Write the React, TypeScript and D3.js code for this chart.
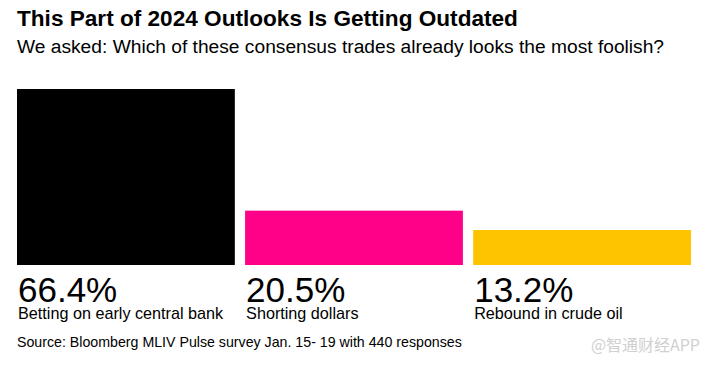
import React from "react";
import * as d3 from "d3";

const categories = ["Betting on early central bank", "Shorting dollars", "Rebound in crude oil"];
const values = [66.4, 20.5, 13.2];
const labels = ["66.4%", "20.5%", "13.2%"];
const colors = ["#000000", "#ff0089", "#ffc400"];

const W = 710;
const H = 366;
const FONT = "'Liberation Sans', Arial, Helvetica, sans-serif";

export default function App() {
  const x = d3.scaleBand<string>().domain(categories).range([17, 691]).paddingInner(0.045).paddingOuter(0);
  const y = d3.scaleLinear().domain([0, 66.4]).range([265, 89]);
  return (
    <svg width={W} height={H} style={{ position: "absolute", left: 0, top: 0, background: "#fff" }} fontFamily={FONT}>
      <rect x={0} y={0} width={W} height={H} fill="#fff" />
      <text x={17} y={26} fontSize={22.6} fontWeight={700} fill="#000">This Part of 2024 Outlooks Is Getting Outdated</text>
      <text x={17} y={53} fontSize={19.2} fill="#000">We asked: Which of these consensus trades already looks the most foolish?</text>
      {categories.map((c, i) => (
        <g key={c}>
          <rect x={x(c)} y={y(values[i])} width={x.bandwidth()} height={y(0) - y(values[i])} fill={colors[i]} />
          <text x={(x(c) as number) + 1} y={302} fontSize={35} fill="#000">{labels[i]}</text>
          <text x={(x(c) as number) + 1} y={319} fontSize={16.2} fill="#000">{c}</text>
        </g>
      ))}
      <text x={17} y={347} fontSize={14.2} fill="#000">Source: Bloomberg MLIV Pulse survey Jan. 15- 19 with 440 responses</text>
      <text x={700} y={351} fontSize={16} fill="#d0d0d0" textAnchor="end" fontFamily="'Noto Sans CJK SC', sans-serif">@智通财经APP</text>
    </svg>
  );
}
